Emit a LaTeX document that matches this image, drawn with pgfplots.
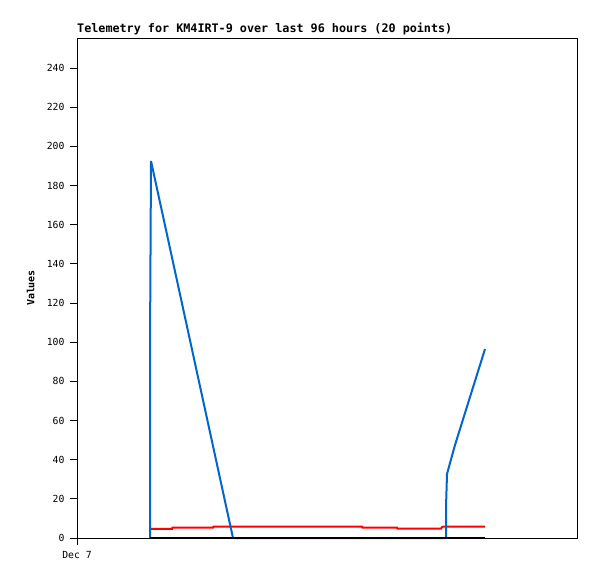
\documentclass[border=0pt]{standalone}
\usepackage{pgfplots}
\pgfplotsset{compat=1.18}
\usepackage{fontspec}
\setmainfont{DejaVu Sans Mono}
\usetikzlibrary{calc}
\definecolor{telblue}{RGB}{0,102,204}
\definecolor{telred}{RGB}{255,0,0}

\begin{document}
\begin{tikzpicture}
\begin{axis}[
  name=main,
  scale only axis,
  width=500bp, height=500bp,
  xmin=0, xmax=500, ymin=0, ymax=255.3,
  axis line style={black, line width=0.8bp},
  ytick={0,20,...,240},
  xtick={0}, xticklabels={Dec 7},
  ytick pos=left, xtick pos=bottom,
  tick align=outside,
  major tick length=7bp,
  tick style={black, line width=0.8bp},
  ticklabel style={font=\fontsize{9.8}{11}\selectfont},
  yticklabel style={xshift=-2bp},
  xticklabel style={yshift=-3bp},
  /pgf/number format/assume math mode=true,
  ylabel={\fontsize{10}{11}\selectfont\bfseries Values},
  ylabel style={at={(axis description cs:0,0.5)}, anchor=south, yshift=39bp},
  clip=false,
]
% red series
\addplot[telred, line width=2bp] coordinates {
  (73,4.6) (95,4.6) (95.5,5.3) (136,5.3) (136.5,5.8) (285,5.8)
  (285.5,5.3) (320,5.3) (320.5,4.8) (364,4.8) (365,5.6) (366,5.8) (408,5.8)
};
% blue series
\addplot[telblue, line width=2bp, line join=bevel] coordinates {
  (73,0) (73,97) (74,192.5) (156,0) (369,0) (369,15.8) (370,32.7)
  (378,47.5) (408,96.5)
};
% zero-valued series
\addplot[black, line width=2bp] coordinates {(73,0) (408,0)};
\end{axis}
\node[anchor=south west, inner sep=0pt, font=\fontsize{11.8}{13}\selectfont\bfseries]
  at ($(main.north west)+(0,3bp)$) {Telemetry for KM4IRT-9 over last 96 hours (20 points)};
\useasboundingbox ($(main.south west)+(-77bp,-41bp)$) rectangle ($(main.north east)+(20bp,38bp)$);
\end{tikzpicture}
\end{document}
